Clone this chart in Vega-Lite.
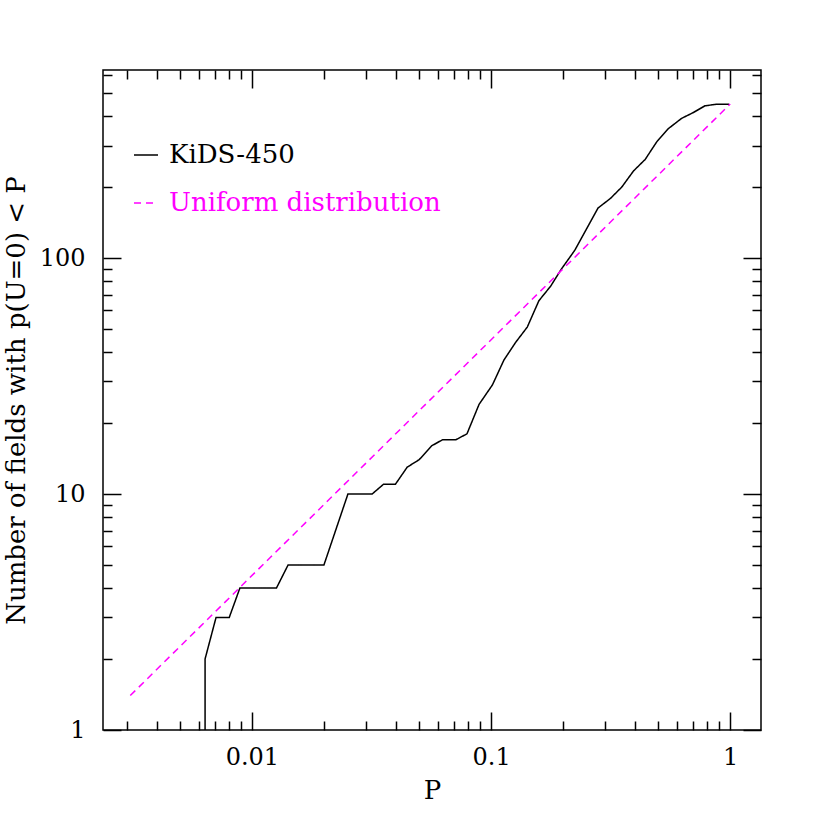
{
  "$schema": "https://vega.github.io/schema/vega-lite/v6.json",
  "width": 658,
  "height": 660,
  "autosize": "none",
  "padding": {"left": 103, "top": 70, "right": 69, "bottom": 100},
  "background": "white",
  "config": {
    "view": {"stroke": "black", "strokeWidth": 1.5},
    "font": "DejaVu Serif",
    "axis": {
      "grid": false,
      "domain": false,
      "tickColor": "black",
      "tickWidth": 1.5,
      "labelFont": "DejaVu Serif",
      "labelFontSize": 24,
      "labelColor": "black",
      "titleFont": "DejaVu Serif",
      "titleFontSize": 26,
      "titleFontWeight": "normal",
      "titleColor": "black"
    }
  },
  "data": {
    "values": [
      {"series": "KiDS-450", "P": 0.00637, "N": 1},
      {"series": "KiDS-450", "P": 0.00637, "N": 2},
      {"series": "KiDS-450", "P": 0.00708, "N": 3},
      {"series": "KiDS-450", "P": 0.00804, "N": 3},
      {"series": "KiDS-450", "P": 0.00891, "N": 4},
      {"series": "KiDS-450", "P": 0.01267, "N": 4},
      {"series": "KiDS-450", "P": 0.01416, "N": 5},
      {"series": "KiDS-450", "P": 0.0200, "N": 5},
      {"series": "KiDS-450", "P": 0.0252, "N": 10},
      {"series": "KiDS-450", "P": 0.0318, "N": 10},
      {"series": "KiDS-450", "P": 0.0355, "N": 11},
      {"series": "KiDS-450", "P": 0.0398, "N": 11},
      {"series": "KiDS-450", "P": 0.0446, "N": 13},
      {"series": "KiDS-450", "P": 0.0501, "N": 14},
      {"series": "KiDS-450", "P": 0.0564, "N": 16},
      {"series": "KiDS-450", "P": 0.0627, "N": 17},
      {"series": "KiDS-450", "P": 0.0713, "N": 17},
      {"series": "KiDS-450", "P": 0.0793, "N": 18},
      {"series": "KiDS-450", "P": 0.0891, "N": 24},
      {"series": "KiDS-450", "P": 0.1013, "N": 29},
      {"series": "KiDS-450", "P": 0.1132, "N": 37},
      {"series": "KiDS-450", "P": 0.1268, "N": 44},
      {"series": "KiDS-450", "P": 0.1417, "N": 51},
      {"series": "KiDS-450", "P": 0.1585, "N": 66},
      {"series": "KiDS-450", "P": 0.1774, "N": 76},
      {"series": "KiDS-450", "P": 0.1970, "N": 90},
      {"series": "KiDS-450", "P": 0.2240, "N": 108},
      {"series": "KiDS-450", "P": 0.2800, "N": 163},
      {"series": "KiDS-450", "P": 0.3155, "N": 179},
      {"series": "KiDS-450", "P": 0.3520, "N": 200},
      {"series": "KiDS-450", "P": 0.3940, "N": 234},
      {"series": "KiDS-450", "P": 0.4410, "N": 262},
      {"series": "KiDS-450", "P": 0.4930, "N": 311},
      {"series": "KiDS-450", "P": 0.5516, "N": 354},
      {"series": "KiDS-450", "P": 0.6260, "N": 391},
      {"series": "KiDS-450", "P": 0.7010, "N": 414},
      {"series": "KiDS-450", "P": 0.7840, "N": 442},
      {"series": "KiDS-450", "P": 0.8770, "N": 449},
      {"series": "KiDS-450", "P": 0.9900, "N": 449},
      {"series": "Uniform distribution", "P": 0.0031, "N": 1.40},
      {"series": "Uniform distribution", "P": 1.0, "N": 450}
    ]
  },
  "resolve": {"axis": {"x": "independent", "y": "independent"}},
  "layer": [
    {
      "mark": {"type": "line", "strokeWidth": 1.5, "clip": true},
      "encoding": {
        "x": {
          "field": "P", "type": "quantitative",
          "scale": {"type": "log", "domain": [0.002384, 1.345], "nice": false},
          "axis": {"orient": "bottom", "values": [0.01, 0.1, 1], "tickSize": -18, "labelPadding": 33, "format": "~g", "title": "P", "titlePadding": 8, "labelFlush": false, "labelOverlap": false}
        },
        "y": {
          "field": "N", "type": "quantitative",
          "scale": {"type": "log", "domain": [1, 627], "nice": false},
          "axis": {"orient": "left", "values": [1, 10, 100], "tickSize": -18, "labelPadding": 36, "format": "~g", "title": "Number of fields with p(U=0) < P", "titlePadding": 10, "labelFlush": false, "labelOverlap": false}
        },
        "color": {
          "field": "series", "type": "nominal",
          "scale": {"domain": ["KiDS-450", "Uniform distribution"], "range": ["black", "#ff00ff"]},
          "legend": {
            "orient": "none", "legendX": 30, "legendY": 72, "title": null, "padding": 0,
            "symbolType": "stroke", "symbolSize": 576, "symbolStrokeWidth": 1.5,
            "labelFont": "DejaVu Serif", "labelFontSize": 26, "labelOffset": 10, "rowPadding": 22, "labelLimit": 500,
            "encode": {"labels": {"update": {"fill": {"signal": "datum.label === 'KiDS-450' ? 'black' : '#ff00ff'"}}}}
          }
        },
        "strokeDash": {
          "field": "series", "type": "nominal",
          "scale": {"domain": ["KiDS-450", "Uniform distribution"], "range": [[1, 0], [7, 5]]},
          "legend": {
            "orient": "none", "legendX": 30, "legendY": 72, "title": null, "padding": 0,
            "symbolType": "stroke", "symbolSize": 576, "symbolStrokeWidth": 1.5,
            "labelFont": "DejaVu Serif", "labelFontSize": 26, "labelOffset": 10, "rowPadding": 22, "labelLimit": 500,
            "encode": {"labels": {"update": {"fill": {"signal": "datum.label === 'KiDS-450' ? 'black' : '#ff00ff'"}}}}
          }
        }
      }
    },
    {
      "mark": {"type": "point", "opacity": 0},
      "encoding": {
        "x": {
          "field": "P", "type": "quantitative",
          "scale": {"type": "log", "domain": [0.002384, 1.345], "nice": false},
          "axis": {"orient": "bottom", "values": [0.003, 0.004, 0.005, 0.006, 0.007, 0.008, 0.009, 0.02, 0.03, 0.04, 0.05, 0.06, 0.07, 0.08, 0.09, 0.2, 0.3, 0.4, 0.5, 0.6, 0.7, 0.8, 0.9], "tickSize": -9, "labels": false, "title": null}
        },
        "y": {
          "field": "N", "type": "quantitative",
          "scale": {"type": "log", "domain": [1, 627], "nice": false},
          "axis": {"orient": "left", "values": [2, 3, 4, 5, 6, 7, 8, 9, 20, 30, 40, 50, 60, 70, 80, 90, 200, 300, 400, 500, 600], "tickSize": -9, "labels": false, "title": null}
        }
      }
    },
    {
      "mark": {"type": "point", "opacity": 0},
      "encoding": {
        "x": {
          "field": "P", "type": "quantitative",
          "scale": {"type": "log", "domain": [0.002384, 1.345], "nice": false},
          "axis": {"orient": "top", "values": [0.01, 0.1, 1], "tickSize": -18, "labels": false, "title": null}
        },
        "y": {
          "field": "N", "type": "quantitative",
          "scale": {"type": "log", "domain": [1, 627], "nice": false},
          "axis": {"orient": "right", "values": [1, 10, 100], "tickSize": -18, "labels": false, "title": null}
        }
      }
    },
    {
      "mark": {"type": "point", "opacity": 0},
      "encoding": {
        "x": {
          "field": "P", "type": "quantitative",
          "scale": {"type": "log", "domain": [0.002384, 1.345], "nice": false},
          "axis": {"orient": "top", "values": [0.003, 0.004, 0.005, 0.006, 0.007, 0.008, 0.009, 0.02, 0.03, 0.04, 0.05, 0.06, 0.07, 0.08, 0.09, 0.2, 0.3, 0.4, 0.5, 0.6, 0.7, 0.8, 0.9], "tickSize": -9, "labels": false, "title": null}
        },
        "y": {
          "field": "N", "type": "quantitative",
          "scale": {"type": "log", "domain": [1, 627], "nice": false},
          "axis": {"orient": "right", "values": [2, 3, 4, 5, 6, 7, 8, 9, 20, 30, 40, 50, 60, 70, 80, 90, 200, 300, 400, 500, 600], "tickSize": -9, "labels": false, "title": null}
        }
      }
    }
  ]
}
